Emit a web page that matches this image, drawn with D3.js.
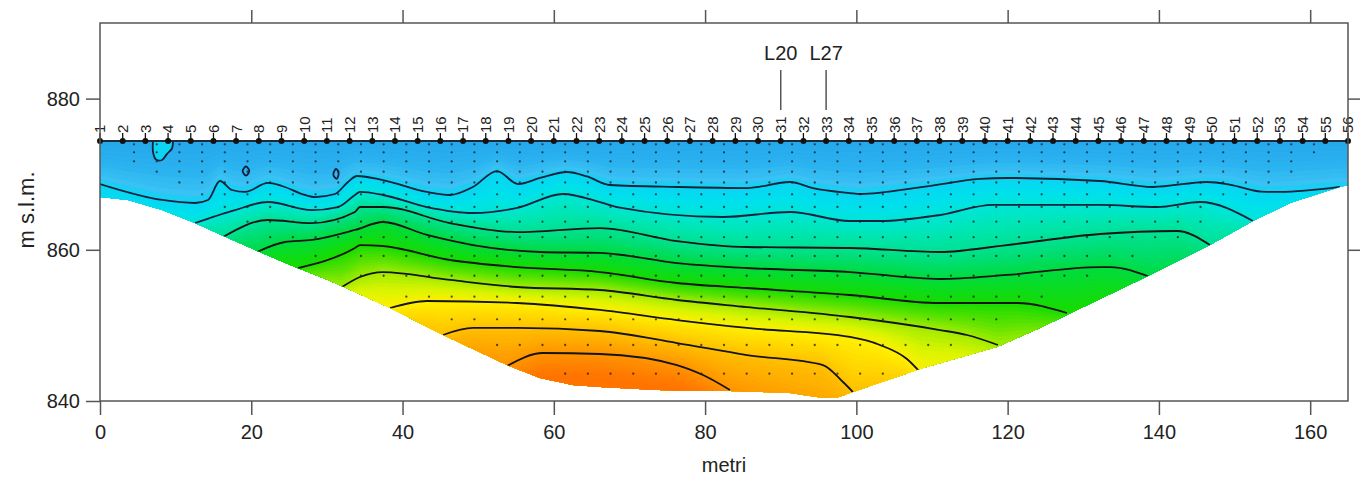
<!DOCTYPE html>
<html><head><meta charset="utf-8">
<script src="https://cdn.jsdelivr.net/npm/d3@7"></script>
<style>
body{margin:0;background:#fff}
svg{display:block}
text{font-family:"Liberation Sans",Arial,sans-serif;fill:#222}
</style>
</head><body>
<svg id="chart" width="1360" height="478"></svg>
<script>
// ---------- data ----------
const xDomain = [0, 165];
const yDomain = [840, 890];
const xTicks = [0, 20, 40, 60, 80, 100, 120, 140, 160];
const yTicks = [840, 860, 880];
const xTitle = "metri";
const yTitle = "m s.l.m.";
const surfaceElev = 874.39;
const electrodeSpacing = 3;
const electrodeCount = 56;
const markerLabels = ["L20", "L27"];
const markerElectrodes = [31, 33];

// bottom of the investigated section (x m, elevation m)
const bottomBoundary = [[0,866.98],[3.70,866.59],[8.20,865.26],[12.56,863.54],[16.92,861.56],[21.42,859.58],[25.78,857.72],[30.14,856.01],[33.71,854.42],[38.34,852.30],[45.35,848.73],[53.81,844.76],[58.17,843.04],[62.53,842.11],[66.10,841.85],[73.71,841.46],[83.29,841.33],[91.22,841.06],[95.58,840.40],[97.5,840.45],[99.55,841.19],[108.81,844.37],[118.59,847.14],[124.27,849.66],[128.64,851.77],[132.21,853.49],[138.82,856.67],[146.75,860.63],[152.43,863.81],[157.33,866.19],[163.93,868.31],[165,868.57]];

// contour lines, level 1 (top) .. level 9 (bottom)
const contour1 = [[0,868.70],[8.20,866.59],[12.56,866.19],[14.28,866.59],[15.86,869.10],[17.45,867.91],[19.17,867.65],[22.21,868.84],[24.06,868.44],[27.10,867.25],[28.42,866.98],[31.07,867.38],[32.79,868.97],[33.98,869.76],[37.41,869.23],[43.23,867.65],[46.27,867.25],[49.31,868.31],[52.49,870.42],[55.26,868.70],[58.17,869.50],[61.74,870.29],[64.38,869.70],[67.42,868.57],[76.28,868.31],[85.54,868.17],[91.22,868.97],[94.27,868.17],[99.15,867.51],[100.48,867.38],[108.81,868.31],[116.34,869.37],[119.91,869.50],[132.21,869.10],[139.21,868.31],[146.35,868.97],[149.5,868.6],[153.5,867.7],[156.00,867.65],[163.93,868.31]];
const contour2 = [[12.56,863.54],[17.85,865.26],[22.21,866.32],[28.03,865.26],[31.46,865.66],[33.71,867.25],[34.37,867.65],[37.41,867.25],[43.23,865.66],[49.31,864.87],[55.13,865.53],[61.21,867.38],[66.10,866.32],[68.35,865.66],[82.36,864.34],[91.22,865.00],[99.15,863.81],[103.12,863.81],[111.05,864.60],[118.06,865.93],[132.21,865.93],[139.74,865.66],[145.43,866.32],[152.43,863.81]];
const contour3 = [[16.26,861.69],[22.21,863.94],[28.03,863.54],[33.71,865.00],[34.37,865.66],[37.41,865.66],[46.27,863.54],[55.13,862.35],[66.10,862.88],[76.28,861.16],[85.54,860.37],[99.15,860.24],[111.05,859.71],[119.91,860.63],[132.21,862.09],[142.38,862.49],[146.75,860.63]];
const contour4 = [[20.76,859.71],[24.46,861.03],[28.03,861.30],[33.71,862.62],[37.41,863.68],[43.23,861.96],[49.31,860.63],[58.17,859.71],[66.10,859.58],[76.28,858.25],[85.54,857.59],[99.15,857.06],[111.05,856.14],[119.91,856.67],[132.21,857.72],[133.53,857.72],[138.82,856.40]];
const contour5 = [[26.18,857.59],[33.71,860.24],[34.37,860.63],[37.41,860.50],[46.27,858.65],[55.13,857.72],[66.10,857.06],[76.28,855.61],[85.54,854.95],[99.15,854.02],[111.05,852.96],[121.23,852.96],[127.84,851.64]];
const contour6 = [[31.99,855.08],[34.37,856.40],[37.41,857.06],[46.27,856.01],[55.13,855.08],[66.10,854.68],[76.28,853.36],[85.54,852.43],[99.15,851.11],[111.05,849.39],[114.62,848.73],[118.72,847.41]];
const contour7 = [[38.34,852.30],[43.23,853.23],[55.13,852.96],[66.10,852.04],[76.28,850.71],[85.54,849.66],[99.15,848.47],[103.12,847.41],[106.69,845.56],[108.41,843.84]];
const contour8 = [[45.35,848.73],[49.31,849.66],[55.13,849.66],[66.10,849.26],[76.28,847.67],[85.54,846.08],[95.58,844.76],[98.23,842.51],[99.55,841.19]];
const contour9 = [[53.81,844.63],[58.57,846.35],[66.10,846.22],[76.28,844.76],[79.72,843.44],[83.29,841.46]];

// small closed contours near the surface
const loopA = [[7.01,874.39],[7.01,872.94],[7.40,871.95],[8.20,871.88],[8.86,872.70],[9.52,873.40],[9.65,874.39]];
const loopB = [[19.30,871.02],[19.74,870.42],[19.30,869.82],[18.86,870.42]];
const loopC = [[31.20,870.70],[31.55,870.15],[31.30,869.40],[30.85,869.95]];

// measurement (pseudo-section) points: one row per depth level
const pointRowElev  = [873.95,872.89,871.70,870.33,868.90,867.34,865.66,863.72,861.67,859.18,856.57,853.80,850.81,847.41,843.61];
const pointRowStart = [4.5,4.5,4.5,7.5,10.5,13.5,16.5,19.5,22.5,28.5,34.5,40.5,46.5,52.5,61.5];
const pointRowEnd   = [160.5,160.5,157.5,157.5,154.5,151.5,145.5,145.5,142.5,136.5,130.5,124.5,118.5,112.5,103.5];

// colour ramp by contour level
const colorLevels = [0, 0.5, 0.85, 1, 1.5, 2, 2.5, 3, 3.5, 4, 5, 5.5, 6, 6.5, 7, 7.5, 8, 8.5, 9, 10];
const colorValues = ["#26a8ec","#2ab2f0","#3ac2f4","#0cd4f2","#00e0ee","#00e6d8","#00e6b4","#00e294","#00de6e","#00dc3e","#18dc00","#58e200","#a2ec00","#d8f400","#fff000","#ffd800","#ffc000","#ffaa00","#ff9400","#ff7400"];

// ---------- chart ----------
const svg = d3.select("#chart");
const x = d3.scaleLinear(xDomain, [100, 1348]);
const y = d3.scaleLinear(yDomain, [401, 23]);
const color = d3.scaleLinear(colorLevels, colorValues).interpolate(d3.interpolateRgb).clamp(true);
const contourLines = [contour1, contour2, contour3, contour4, contour5, contour6, contour7, contour8, contour9];

const bis = d3.bisector(d => d[0]).right;
function interpAt(pts, xv) {
  if (xv <= pts[0][0]) return pts[0][1];
  if (xv >= pts[pts.length - 1][0]) return pts[pts.length - 1][1];
  const i = bis(pts, xv);
  const a = pts[i - 1], b = pts[i];
  return a[1] + (b[1] - a[1]) * (xv - a[0]) / (b[0] - a[0]);
}
const bottomAt = xv => interpAt(bottomBoundary, xv);
function lineElev(pts, xv) {
  const n = pts.length, x0 = pts[0][0], xn = pts[n - 1][0];
  if (xv < x0) {
    if (x0 <= 0.5) return pts[0][1];
    return bottomAt(xv) + (pts[0][1] - bottomAt(x0)) - 0.3 * (x0 - xv);
  }
  if (xv > xn) {
    if (xn >= 164.5) return pts[n - 1][1];
    return bottomAt(xv) + (pts[n - 1][1] - bottomAt(xn)) - 0.3 * (xv - xn);
  }
  return interpAt(pts, xv);
}

// value grid
const dx = 0.5, dz = 0.25, zTop = 875.5, zBot = 839.5;
const nx = Math.round((xDomain[1] - xDomain[0]) / dx) + 1;
const nz = Math.round((zTop - zBot) / dz) + 1;
const values = new Float64Array(nx * nz);
for (let i = 0; i < nx; i++) {
  const xv = xDomain[0] + i * dx;
  const E = [surfaceElev].concat(contourLines.map(l => lineElev(l, xv)));
  for (let j = 0; j < nz; j++) {
    const z = zTop - j * dz;
    let v;
    if (z >= E[0]) v = 0;
    else if (z < E[9]) v = Math.min(10, 9 + (E[9] - z) / 3);
    else {
      for (let k = 0; k < 9; k++) {
        if (z <= E[k] && z >= E[k + 1]) { v = k + (E[k] - z) / Math.max(0.05, E[k] - E[k + 1]); break; }
      }
      if (v === undefined) v = 9;
    }
    values[j * nx + i] = v;
  }
}

const sectionPoly = [[xDomain[0], surfaceElev], [xDomain[1], surfaceElev]].concat(bottomBoundary.slice().reverse());
const defs = svg.append("defs");
defs.append("clipPath").attr("id", "sec").append("path")
  .attr("d", d3.line().x(d => x(d[0])).y(d => y(d[1]))(sectionPoly) + "Z");

const thresholds = d3.range(0, 10.001, 0.1);
const contours = d3.contours().size([nx, nz]).thresholds(thresholds)(values);
const proj = d3.geoTransform({
  point: function (px, py) {
    this.stream.point(x(xDomain[0] + (px - 0.5) * dx), y(zTop - (py - 0.5) * dz));
  }
});
const gpath = d3.geoPath(proj);

const field = svg.append("g").attr("clip-path", "url(#sec)");
field.selectAll("path.band").data(contours).join("path")
  .attr("class", "band")
  .attr("d", gpath)
  .attr("fill", d => color(d.value + 0.05))
  .attr("stroke", d => color(d.value + 0.05))
  .attr("stroke-width", 0.3);

const lineGen = d3.line().x(d => x(d[0])).y(d => y(d[1])).curve(d3.curveMonotoneX);
field.selectAll("path.cl").data(contourLines).join("path")
  .attr("class", "cl")
  .attr("d", lineGen)
  .attr("fill", "none")
  .attr("stroke", (d, i) => i < 2 ? "#12223c" : "#141414")
  .attr("stroke-width", 1.8);

field.append("path")
  .attr("d", d3.line().x(d => x(d[0])).y(d => y(d[1])).curve(d3.curveCatmullRom)(loopA))
  .attr("fill", color(1.02)).attr("stroke", "#12223c").attr("stroke-width", 1.8);
[loopB, loopC].forEach(lp => {
  field.append("path")
    .attr("d", d3.line().x(d => x(d[0])).y(d => y(d[1])).curve(d3.curveCardinalClosed)(lp))
    .attr("fill", "none").attr("stroke", "#12223c").attr("stroke-width", 1.8);
});

// measurement points
const pts = [];
pointRowElev.forEach((z, r) => {
  for (let xv = pointRowStart[r]; xv <= pointRowEnd[r] + 1e-6; xv += electrodeSpacing) pts.push([xv, z]);
});
svg.append("g").selectAll("circle").data(pts).join("circle")
  .attr("cx", d => x(d[0])).attr("cy", d => y(d[1])).attr("r", 1.15)
  .attr("fill", "#1b1b1b").attr("opacity", 0.75);

// surface line & electrodes
const electrodes = d3.range(electrodeCount).map(i => ({ n: i + 1, x: i * electrodeSpacing }));
svg.append("line")
  .attr("x1", x(xDomain[0])).attr("x2", x(xDomain[1]))
  .attr("y1", y(surfaceElev)).attr("y2", y(surfaceElev))
  .attr("stroke", "#1d2a3a").attr("stroke-width", 2);
const eg = svg.append("g").selectAll("g").data(electrodes).join("g")
  .attr("transform", d => `translate(${x(d.x)},${y(surfaceElev)})`);
eg.append("line").attr("y1", -8).attr("y2", 0).attr("stroke", "#111").attr("stroke-width", 1.3);
eg.append("circle").attr("r", 3).attr("fill", "#111");
eg.append("text")
  .attr("transform", "translate(0,-8) rotate(-90)")
  .attr("dy", "0.36em")
  .attr("font-size", 15)
  .text(d => d.n);

// L20 / L27 markers
markerLabels.forEach((lab, i) => {
  const xm = x((markerElectrodes[i] - 1) * electrodeSpacing);
  svg.append("text").attr("x", xm).attr("y", 60).attr("text-anchor", "middle")
    .attr("font-size", 20).text(lab);
  svg.append("line").attr("x1", xm).attr("x2", xm).attr("y1", 70).attr("y2", 110)
    .attr("stroke", "#555").attr("stroke-width", 1.5);
});

// frame & axes
svg.append("rect").attr("x", x(xDomain[0])).attr("y", y(yDomain[1]))
  .attr("width", x(xDomain[1]) - x(xDomain[0])).attr("height", y(yDomain[0]) - y(yDomain[1]))
  .attr("fill", "none").attr("stroke", "#555").attr("stroke-width", 1.5);

function styleAxis(g) {
  g.select(".domain").remove();
  g.selectAll(".tick line").attr("stroke", "#555").attr("stroke-width", 1.5);
  g.selectAll(".tick text").attr("font-size", 20).attr("fill", "#222")
    .attr("font-family", '"Liberation Sans",Arial,sans-serif');
}
svg.append("g").attr("transform", `translate(0,${y(yDomain[0])})`)
  .call(d3.axisBottom(x).tickValues(xTicks).tickSize(14).tickPadding(10).tickFormat(d3.format("d")))
  .call(styleAxis);
svg.append("g").attr("transform", `translate(0,${y(yDomain[1])})`)
  .call(d3.axisTop(x).tickValues(xTicks.filter(v => v > 0)).tickSize(13).tickFormat(""))
  .call(styleAxis);
svg.append("g").attr("transform", `translate(${x(xDomain[0])},0)`)
  .call(d3.axisLeft(y).tickValues(yTicks).tickSize(14).tickPadding(6).tickFormat(d3.format("d")))
  .call(styleAxis);
svg.append("g").attr("transform", `translate(${x(xDomain[1])},0)`)
  .call(d3.axisRight(y).tickValues(yTicks.filter(v => v > yDomain[0])).tickSize(12).tickFormat(""))
  .call(styleAxis);

svg.append("text").attr("x", (x(xDomain[0]) + x(xDomain[1])) / 2).attr("y", 472)
  .attr("text-anchor", "middle").attr("font-size", 20).text(xTitle);
svg.append("text").attr("transform", "translate(34,210) rotate(-90)")
  .attr("text-anchor", "middle").attr("font-size", 22).text(yTitle);
</script>
</body></html>
